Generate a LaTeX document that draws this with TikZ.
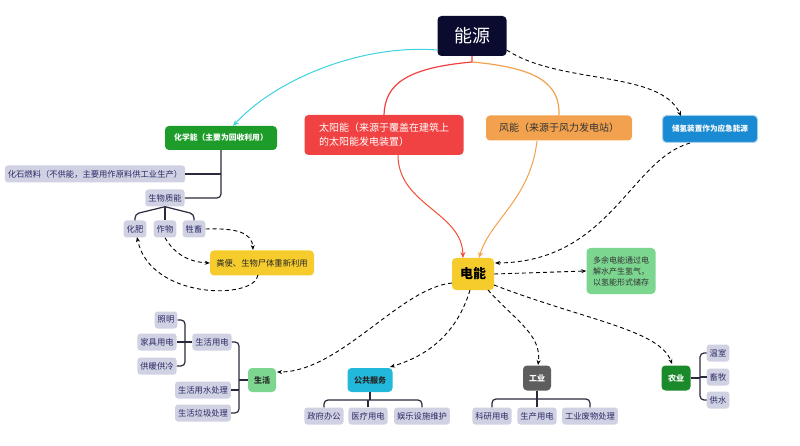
\documentclass[tikz,border=0pt]{standalone}
\usepackage{fontspec}
\newfontfamily\cjk{Noto Sans CJK SC}
\usetikzlibrary{arrows.meta}
\definecolor{navy}{HTML}{0B0B30}
\definecolor{lblfill}{HTML}{D0D1E2}
\definecolor{lbltxt}{HTML}{2A2A66}
\definecolor{treeline}{HTML}{2A2A3E}
\definecolor{cyanline}{HTML}{3ED2E0}
\definecolor{redbox}{HTML}{F04242}
\definecolor{orangebox}{HTML}{F2A24E}
\definecolor{bluebox}{HTML}{1A8AD2}
\definecolor{yellowbox}{HTML}{F6CC2C}
\definecolor{lightgreen}{HTML}{7CD690}
\definecolor{darkgreen}{HTML}{1E9C2A}
\definecolor{farmgreen}{HTML}{1A8A2A}
\definecolor{pubcyan}{HTML}{22B8DC}
\definecolor{indgray}{HTML}{5E5E5E}
\tikzset{
  lbl/.style={fill=lblfill, rounded corners=3pt, text=lbltxt, font=\cjk\fontsize{8.3}{9}\selectfont, inner xsep=3pt, inner ysep=0pt, minimum height=17pt},
  mainbox/.style={rounded corners=4pt, inner xsep=5pt, inner ysep=0pt, align=center},
  treeedge/.style={draw=treeline, line width=1.2pt, rounded corners=4pt},
  dashlink/.style={draw=black, line width=0.9pt, dash pattern=on 4pt off 3pt, -{Stealth[length=5pt,width=4pt]}},
}
\begin{document}
\begin{tikzpicture}[x=1pt,y=-1pt]
\useasboundingbox[fill=white] (0,0) rectangle (800,446);

% main nodes
\node[mainbox, fill=navy, text=white, font=\cjk\fontsize{18}{20}\selectfont, minimum width=69pt, minimum height=40pt] (root) at (472,36) {能源};
\node[mainbox, fill=darkgreen, text=white, font=\cjk\bfseries\fontsize{7.8}{9}\selectfont, minimum width=112pt, minimum height=24pt] (chem) at (221,138) {化学能（主要为回收利用）};
\node[mainbox, fill=redbox, text=white, font=\cjk\fontsize{10}{14}\selectfont, minimum width=159pt, minimum height=40pt, align=left] (solar) at (384,135) {太阳能（来源于覆盖在建筑上\\的太阳能发电装置）};
\node[mainbox, fill=orangebox, text=black!80, font=\cjk\fontsize{10}{12}\selectfont, minimum width=146pt, minimum height=25pt] (wind) at (559,128) {风能（来源于风力发电站）};
\node[mainbox, fill=bluebox, draw=bluebox!40, line width=1pt, text=white, font=\cjk\bfseries\fontsize{7.6}{9}\selectfont, minimum width=95pt, minimum height=27pt] (h2) at (710,129) {储氢装置作为应急能源};
\node[mainbox, fill=yellowbox, text=black, font=\cjk\bfseries\fontsize{13}{15}\selectfont, minimum width=42pt, minimum height=32pt] (elec) at (473,274) {电能};
\node[mainbox, fill=lightgreen, text=black!80, font=\cjk\fontsize{8}{11}\selectfont, minimum width=69pt, minimum height=46pt, align=left] (surplus) at (621,271) {多余电能通过电\\解水产生氢气，\\以氢能形式储存};

% chemical subtree
\node[lbl] (fossil) at (95,174) {化石燃料（不供能，主要用作原料供工业生产）};
\node[lbl] (bio) at (165,198) {生物质能};
\node[lbl] (fert) at (135,229) {化肥};
\node[lbl] (crop) at (165,229) {作物};
\node[lbl] (live) at (194,229) {牲畜};
\node[mainbox, fill=yellowbox, text=black!85, font=\cjk\fontsize{8.3}{9}\selectfont, minimum width=104pt, minimum height=25pt] (manure) at (262,263) {粪便、生物尸体重新利用};

% lower category nodes
\node[mainbox, fill=lightgreen, text=black!85, font=\cjk\bfseries\fontsize{8}{9}\selectfont, minimum width=28pt, minimum height=24pt] (life) at (262,380) {生活};
\node[mainbox, fill=pubcyan, text=black!85, font=\cjk\bfseries\fontsize{8}{9}\selectfont, minimum width=45pt, minimum height=24pt] (pub) at (370,380) {公共服务};
\node[mainbox, fill=indgray, text=white, font=\cjk\bfseries\fontsize{8}{9}\selectfont, minimum width=28pt, minimum height=25pt] (ind) at (537,378) {工业};
\node[mainbox, fill=farmgreen, text=white, font=\cjk\bfseries\fontsize{8}{9}\selectfont, minimum width=29pt, minimum height=25pt] (agr) at (676,378) {农业};

% life subtree
\node[lbl] (lifeelec) at (212,342) {生活用电};
\node[lbl] (light) at (166,320) {照明};
\node[lbl] (furn) at (157,342) {家具用电};
\node[lbl] (heat) at (157,366) {供暖供冷};
\node[lbl] (water) at (203,390) {生活用水处理};
\node[lbl] (trash) at (203,413) {生活垃圾处理};

% public subtree
\node[lbl] (gov) at (324,416) {政府办公};
\node[lbl] (med) at (368,416) {医疗用电};
\node[lbl] (ent) at (422,416) {娱乐设施维护};

% industry subtree
\node[lbl] (res) at (492,416) {科研用电};
\node[lbl] (prod) at (537,416) {生产用电};
\node[lbl] (waste) at (590,416) {工业废物处理};

% agriculture subtree
\node[lbl] (green) at (718,353) {温室};
\node[lbl] (herd) at (718,377) {畜牧};
\node[lbl] (supply) at (718,400) {供水};

% tree connectors
\draw[treeedge] (chem.south) -- (221,198) -- (bio.east);
\draw[treeedge] (fossil.east) -- (221,174);
\draw[treeedge] (bio.south) -- (fert.north |- 0,214) -- (fert.north);
\draw[treeedge] (bio.south) -- (live.north |- 0,214) -- (live.north);
\draw[treeedge] (bio.south) -- (crop.north);

\draw[treeedge] (life.west) -- (239,380);
\draw[treeedge] (lifeelec.east) -- (239,342) -- (239,413) -- (trash.east);
\draw[treeedge] (water.east) -- (239,390);
\draw[treeedge] (lifeelec.west) -- (185,342);
\draw[treeedge] (light.east) -- (185,320) -- (185,366) -- (heat.east);
\draw[treeedge] (furn.east) -- (185,342);

\draw[treeedge] (pub.south) -- (370,400);
\draw[treeedge] (gov.north) -- (324,400) -- (422,400) -- (ent.north);
\draw[treeedge] (med.north) -- (368,400);

\draw[treeedge] (ind.south) -- (537,399);
\draw[treeedge] (res.north) -- (492,399) -- (590,399) -- (waste.north);
\draw[treeedge] (prod.north) -- (537,399);

\draw[treeedge] (agr.east) -- (700,378);
\draw[treeedge] (green.west) -- (700,353) -- (700,400) -- (supply.west);
\draw[treeedge] (herd.west) -- (700,377);

% colored links
\coordinate (rootjoin) at (472,62);
\draw[cyanline, line width=1pt, -{Stealth[length=6pt,width=5pt]}] (root.west |- 0,50) .. controls (360,44) and (275,80) .. (233,126);
\draw[redbox, line width=1.2pt] (root.south) -- (rootjoin) .. controls (405,68) and (385,85) .. (solar.north);
\draw[orangebox, line width=1.2pt] (rootjoin) .. controls (540,68) and (560,85) .. (wind.north);
\draw[redbox!80!orange, line width=1pt, -{Stealth[length=6pt,width=5pt]}] (398,155) .. controls (398,205) and (462,212) .. (463,258);
\draw[orangebox, line width=1pt, -{Stealth[length=6pt,width=5pt]}] (537,141) .. controls (530,200) and (490,220) .. (479,258);

% dashed links
\draw[dashlink] (root.east |- 0,50) .. controls (560,85) and (660,70) .. (681,116);
\draw[dashlink] (690,143) .. controls (630,160) and (610,262) .. (495,263);
\draw[dashlink] (elec.east) -- (surplus.west);
\draw[dashlink] (452,283) .. controls (400,288) and (340,372) .. (277,372);
\draw[dashlink] (470,290) .. controls (455,340) and (420,358) .. (390,367);
\draw[dashlink] (488,290) .. controls (515,320) and (542,335) .. (538,365);
\draw[dashlink] (494,285) .. controls (585,320) and (660,330) .. (672,364);
\draw[dashlink] (live.east) .. controls (235,228) and (252,232) .. (253,250);
\draw[dashlink] (crop.south) .. controls (175,255) and (190,262) .. (manure.west);
\draw[dashlink] (258,275) .. controls (255,300) and (150,300) .. (137,237);
\end{tikzpicture}
\end{document}
